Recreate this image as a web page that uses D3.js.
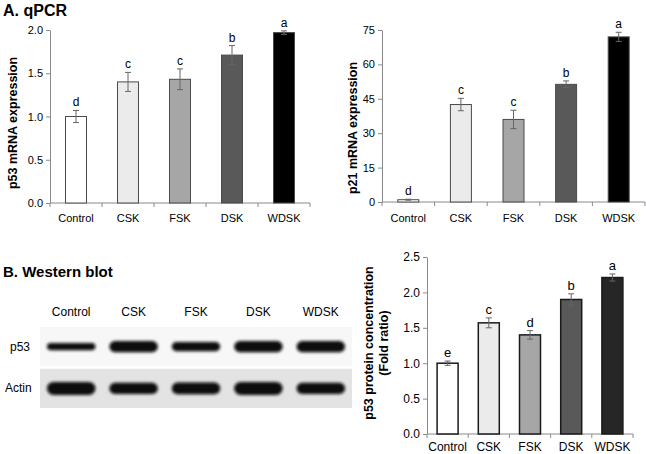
<!DOCTYPE html>
<html>
<head>
<meta charset="utf-8">
<script src="https://cdn.jsdelivr.net/npm/d3@7"></script>
<style>
  html, body { margin: 0; padding: 0; background: #fff; }
  svg { display: block; }
  text { font-family: "Liberation Sans", Arial, sans-serif; }
</style>
</head>
<body>
<svg id="chart" width="646" height="454"></svg>
<script>
// ---------------- data ----------------
const categories = ["Control", "CSK", "FSK", "DSK", "WDSK"];

const p53mRNA      = [1.00, 1.40, 1.43, 1.71, 1.97];
const p53mRNAErr   = [0.07, 0.11, 0.12, 0.11, 0.02];
const p53mRNAGroup = ["d", "c", "c", "b", "a"];
const p53mRNATicks = [0, 0.5, 1.0, 1.5, 2.0];

const p21mRNA      = [1.0, 42.5, 36.0, 51.3, 72.0];
const p21mRNAErr   = [0.2, 2.7, 4.0, 1.5, 2.0];
const p21mRNAGroup = ["d", "c", "c", "b", "a"];
const p21mRNATicks = [0, 15, 30, 45, 60, 75];

const p53Protein      = [1.00, 1.57, 1.40, 1.90, 2.21];
const p53ProteinErr   = [0.03, 0.07, 0.06, 0.08, 0.05];
const p53ProteinGroup = ["e", "c", "d", "b", "a"];
const p53ProteinTicks = [0, 0.5, 1.0, 1.5, 2.0, 2.5];

// western blot band intensities (relative band thickness)
const blotRows       = ["p53", "Actin"];
const p53BandSize    = [0.55, 0.85, 0.7, 0.85, 0.85];
const actinBandSize  = [1.0, 0.85, 0.9, 1.0, 0.85];

// ---------------- drawing ----------------
const svg = d3.select("#chart");
const fillsA = ["#ffffff", "#ebebeb", "#a6a6a6", "#595959", "#000000"];
const fillsB = ["#ffffff", "#ebebeb", "#a6a6a6", "#595959", "#262626"];

function barChart(opt) {
  const g = svg.append("g");
  const x = d3.scaleBand().domain(categories).range([opt.x0, opt.x1]).padding(0);
  const y = d3.scaleLinear().domain([0, opt.max]).range([opt.y0, opt.y1]);
  const bw = 21;

  // y axis
  const ya = g.append("g").attr("transform", `translate(${opt.x0},0)`)
    .call(d3.axisLeft(y).tickValues(opt.ticks).tickSize(4).tickSizeOuter(0)
      .tickFormat(opt.fmt));
  ya.select(".domain").attr("stroke", "#8a8a8a");
  ya.selectAll(".tick line").attr("stroke", "#8a8a8a");
  ya.selectAll(".tick text").attr("font-size", opt.fs).attr("fill", "#000")
    .attr("font-family", "Liberation Sans, Arial, sans-serif").attr("x", -7);

  // x axis
  g.append("line").attr("x1", opt.x0).attr("x2", opt.x1)
    .attr("y1", y(0)).attr("y2", y(0)).attr("stroke", "#8a8a8a");
  const bounds = categories.map(c => x(c)).concat([opt.x1]);
  g.selectAll(".xt").data(bounds).join("line")
    .attr("x1", d => d).attr("x2", d => d)
    .attr("y1", y(0)).attr("y2", y(0) + 4).attr("stroke", "#8a8a8a");
  g.selectAll(".xl").data(categories).join("text")
    .attr("x", d => x(d) + x.bandwidth() / 2)
    .attr("y", opt.labelY)
    .attr("text-anchor", "middle").attr("font-size", opt.fs).attr("fill", "#000")
    .text(d => d);

  // bars
  g.selectAll(".bar").data(opt.values).join("rect")
    .attr("x", (d, i) => x(categories[i]) + x.bandwidth() / 2 - bw / 2)
    .attr("width", bw)
    .attr("y", d => y(d))
    .attr("height", d => y(0) - y(d))
    .attr("fill", (d, i) => opt.fills[i])
    .attr("stroke", opt.stroke).attr("stroke-width", opt.sw);

  // error bars
  const eb = g.selectAll(".eb").data(opt.values).join("g")
    .attr("transform", (d, i) => `translate(${x(categories[i]) + x.bandwidth() / 2},0)`);
  eb.append("line").attr("y1", (d, i) => y(d - opt.err[i])).attr("y2", (d, i) => y(d + opt.err[i]))
    .attr("stroke", "#666").attr("stroke-width", 1);
  eb.append("line").attr("x1", -3).attr("x2", 3)
    .attr("y1", (d, i) => y(d + opt.err[i])).attr("y2", (d, i) => y(d + opt.err[i]))
    .attr("stroke", "#666");
  eb.append("line").attr("x1", -3).attr("x2", 3)
    .attr("y1", (d, i) => y(d - opt.err[i])).attr("y2", (d, i) => y(d - opt.err[i]))
    .attr("stroke", "#666");
  eb.append("text").attr("text-anchor", "middle").attr("font-size", opt.fs + 1)
    .attr("fill", "#000")
    .attr("y", (d, i) => y(d + opt.err[i]) - 4)
    .text((d, i) => opt.groups[i]);

  // y title
  const t = g.append("text")
    .attr("transform", `translate(${opt.titleX},${opt.titleY}) rotate(-90)`)
    .attr("text-anchor", "middle").attr("font-weight", "bold")
    .attr("font-size", opt.titleFs).attr("fill", "#000");
  opt.title.forEach((line, k) => {
    t.append("tspan").attr("x", 0).attr("dy", k === 0 ? 0 : "1.2em").text(line);
  });
}

barChart({
  x0: 50, x1: 310, y0: 203, y1: 30, max: 2.0, ticks: p53mRNATicks, fmt: d3.format(".1f"),
  values: p53mRNA, err: p53mRNAErr, groups: p53mRNAGroup, fills: fillsA,
  stroke: "#4a4a4a", sw: 1, fs: 11, labelY: 222,
  title: ["p53 mRNA expression"], titleX: 17, titleY: 123, titleFs: 12.5
});

barChart({
  x0: 382, x1: 645, y0: 202, y1: 30, max: 75, ticks: p21mRNATicks, fmt: d3.format("d"),
  values: p21mRNA, err: p21mRNAErr, groups: p21mRNAGroup, fills: fillsA,
  stroke: "#4a4a4a", sw: 1, fs: 11, labelY: 222,
  title: ["p21 mRNA expression"], titleX: 357, titleY: 128, titleFs: 12.5
});

barChart({
  x0: 427, x1: 633, y0: 434, y1: 257, max: 2.5, ticks: p53ProteinTicks, fmt: d3.format(".1f"),
  values: p53Protein, err: p53ProteinErr, groups: p53ProteinGroup, fills: fillsB,
  stroke: "#1a1a1a", sw: 1.5, fs: 12, labelY: 451,
  title: ["p53 protein concentration", "(Fold ratio)"], titleX: 373, titleY: 343, titleFs: 12.5
});

// panel titles
svg.append("text").attr("x", 3).attr("y", 16).attr("font-family", "Lato, 'Open Sans', sans-serif")
  .attr("font-weight", "bold").attr("font-size", 16).attr("fill", "#000").text("A. qPCR");
svg.append("text").attr("x", 3).attr("y", 277).attr("font-family", "Lato, 'Open Sans', sans-serif")
  .attr("font-weight", "bold").attr("font-size", 15).attr("fill", "#000").text("B. Western blot");

// ---------------- western blot ----------------
const defs = svg.append("defs");
defs.append("filter").attr("id", "blur").attr("x", "-20%").attr("y", "-100%")
  .attr("width", "140%").attr("height", "300%")
  .append("feGaussianBlur").attr("stdDeviation", 1.6);

const lane = d3.scaleBand().domain(categories).range([40, 352]).padding(0);
const rowY = d3.scaleBand().domain(blotRows).range([327, 408]).paddingInner(0.06);
const rowBg = { "p53": "#f7f7f7", "Actin": "#e3e3e3" };
const rowSizes = { "p53": p53BandSize, "Actin": actinBandSize };
const bandMax = 13;

const wb = svg.append("g");
wb.selectAll(".lanelab").data(categories).join("text")
  .attr("x", d => lane(d) + lane.bandwidth() / 2).attr("y", 316)
  .attr("text-anchor", "middle").attr("font-size", 12).attr("fill", "#000").text(d => d);

blotRows.forEach(r => {
  wb.append("rect").attr("x", 40).attr("y", rowY(r)).attr("width", 312)
    .attr("height", rowY.bandwidth()).attr("fill", rowBg[r]);
  wb.append("text").attr("x", r === "p53" ? 10 : 5).attr("y", rowY(r) + rowY.bandwidth() / 2 + 4)
    .attr("font-size", 12).attr("fill", "#000").text(r);
  wb.selectAll(".band-" + r).data(rowSizes[r]).join("rect")
    .attr("x", (d, i) => lane(categories[i]) + 7)
    .attr("width", lane.bandwidth() - 14)
    .attr("y", d => rowY(r) + rowY.bandwidth() / 2 - d * bandMax / 2)
    .attr("height", d => d * bandMax)
    .attr("rx", d => d * bandMax / 2)
    .attr("fill", "#0a0a0a")
    .attr("filter", "url(#blur)");
});
</script>
</body>
</html>
